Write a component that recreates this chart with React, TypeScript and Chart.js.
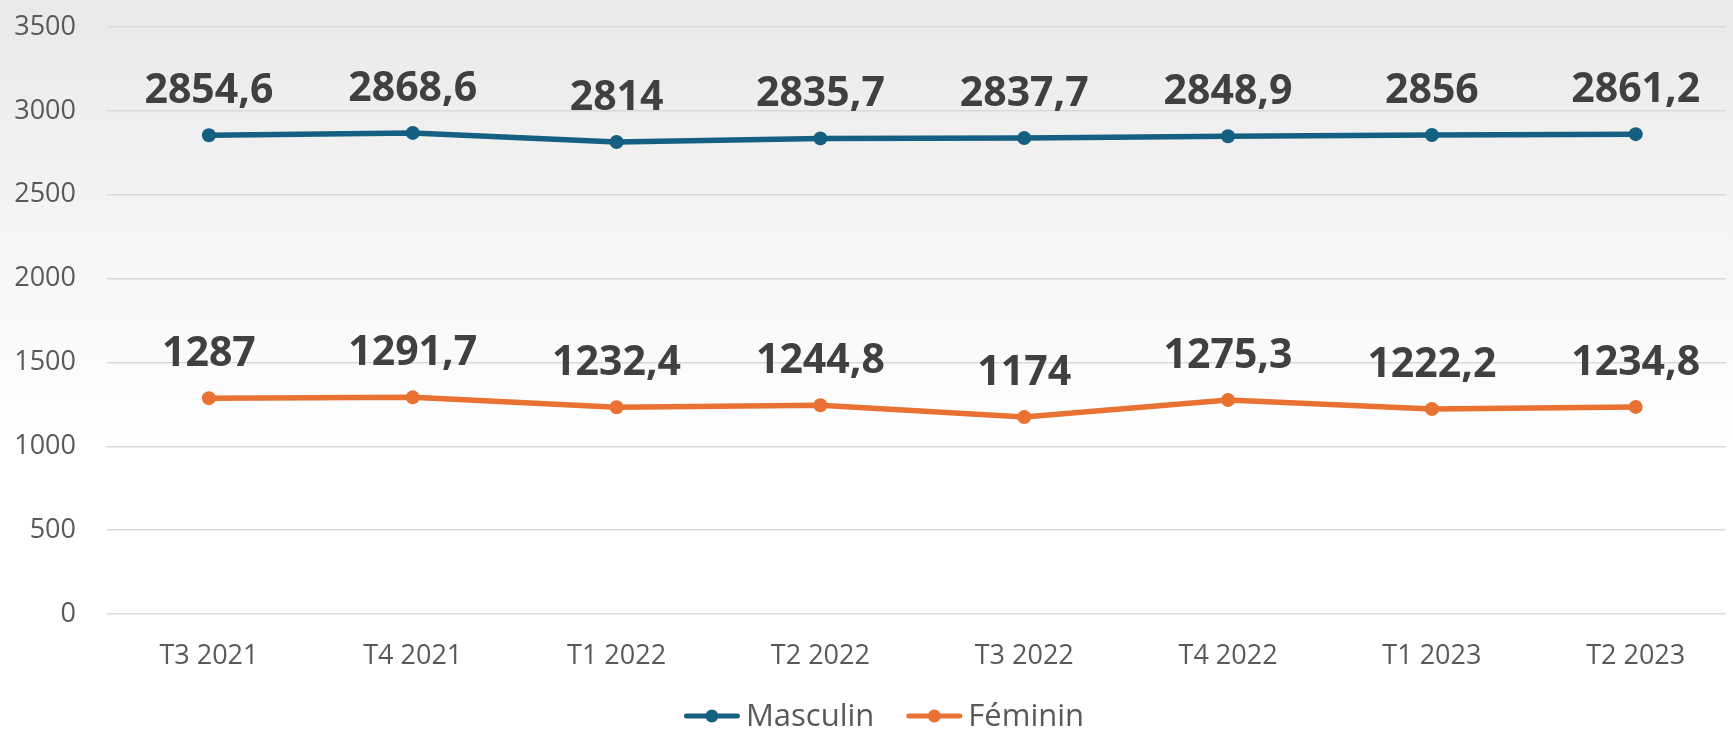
import React, { useEffect, useRef } from "react";
import { Chart, registerables } from "chart.js";

Chart.register(...registerables);

const categories = ["T3 2021", "T4 2021", "T1 2022", "T2 2022", "T3 2022", "T4 2022", "T1 2023", "T2 2023"];
const masculin = [2854.6, 2868.6, 2814, 2835.7, 2837.7, 2848.9, 2856, 2861.2];
const feminin = [1287, 1291.7, 1232.4, 1244.8, 1174, 1275.3, 1222.2, 1234.8];
const seriesNames = ["Masculin", "Féminin"];
const seriesColors = ["#156082", "#E97132"];
const yTicks = [0, 500, 1000, 1500, 2000, 2500, 3000, 3500];

const FONT = "'Open Sans', 'Noto Sans', sans-serif";

const fmt = (v: number) => String(v).replace(".", ",");

const dataLabelPlugin = {
  id: "dataLabels",
  afterDatasetsDraw(chart: any) {
    const ctx = chart.ctx;
    ctx.save();
    ctx.font = `bold 41px ${FONT}`;
    ctx.fillStyle = "#404040";
    ctx.textAlign = "center";
    ctx.textBaseline = "alphabetic";
    chart.data.datasets.forEach((ds: any, di: number) => {
      const meta = chart.getDatasetMeta(di);
      meta.data.forEach((el: any, i: number) => {
        const v = ds.data[i].y;
        ctx.fillText(fmt(v), el.x, el.y - 32);
      });
    });
    ctx.restore();
  },
};

const legendPlugin = {
  id: "customLegend",
  afterDraw(chart: any) {
    const ctx = chart.ctx;
    ctx.save();
    ctx.font = `31px ${FONT}`;
    const lineLen = 56;
    const gapText = 6;
    const gapItem = 32;
    const widths = chart.data.datasets.map((ds: any) => ctx.measureText(ds.label).width);
    let total = 0;
    widths.forEach((w: number, i: number) => {
      total += lineLen + gapText + w + (i < widths.length - 1 ? gapItem : 0);
    });
    let x = 884 - total / 2;
    const y = 716;
    chart.data.datasets.forEach((ds: any, i: number) => {
      ctx.strokeStyle = ds.borderColor;
      ctx.lineWidth = 5;
      ctx.lineCap = "round";
      ctx.beginPath();
      ctx.moveTo(x + 2.5, y);
      ctx.lineTo(x + lineLen - 2.5, y);
      ctx.stroke();
      ctx.fillStyle = ds.borderColor;
      ctx.beginPath();
      ctx.arc(x + lineLen / 2, y, 6.5, 0, Math.PI * 2);
      ctx.fill();
      ctx.fillStyle = "#595959";
      ctx.textAlign = "left";
      ctx.textBaseline = "middle";
      ctx.fillText(ds.label, x + lineLen + gapText, y + 1);
      x += lineLen + gapText + widths[i] + gapItem;
    });
    ctx.restore();
  },
};

export default function App() {
  const canvasRef = useRef<HTMLCanvasElement | null>(null);

  useEffect(() => {
    const canvas = canvasRef.current;
    if (!canvas) return;
    const mk = (vals: number[]) => vals.map((v, i) => ({ x: i, y: v }));
    const chart = new Chart(canvas, {
      type: "line",
      data: {
        datasets: [
          {
            label: seriesNames[0],
            data: mk(masculin),
            borderColor: seriesColors[0],
            backgroundColor: seriesColors[0],
            borderWidth: 5.5,
            pointRadius: 7,
            pointBackgroundColor: seriesColors[0],
            pointBorderWidth: 0,
            tension: 0,
          },
          {
            label: seriesNames[1],
            data: mk(feminin),
            borderColor: seriesColors[1],
            backgroundColor: seriesColors[1],
            borderWidth: 5.5,
            pointRadius: 7,
            pointBackgroundColor: seriesColors[1],
            pointBorderWidth: 0,
            tension: 0,
          },
        ],
      },
      options: {
        animation: false,
        responsive: false,
        maintainAspectRatio: false,
        layout: { padding: { top: 27, left: 0, right: 0, bottom: 54 } },
        plugins: {
          legend: { display: false },
          tooltip: { enabled: false },
        },
        scales: {
          x: {
            type: "linear",
            min: -0.5,
            max: 7.443,
            grid: { display: false, drawTicks: false },
            border: { display: false },
            afterBuildTicks: (scale: any) => {
              scale.ticks = categories.map((_, i) => ({ value: i }));
            },
            afterFit: (scale: any) => {
              scale.height = 62;
              scale.paddingLeft = 0;
              scale.paddingRight = 0;
            },
            ticks: {
              autoSkip: false,
              maxRotation: 0,
              padding: 26,
              color: "#595959",
              font: { family: FONT, size: 27 },
              callback: (v: any) => categories[v as number] ?? "",
            },
          },
          y: {
            min: 0,
            max: 3500,
            afterBuildTicks: (scale: any) => {
              scale.ticks = yTicks.map((v) => ({ value: v }));
            },
            afterFit: (scale: any) => {
              scale.width = 107;
              scale.paddingTop = 0;
              scale.paddingBottom = 0;
            },
            grid: { color: "#d9d9d9", lineWidth: 1.5, drawTicks: false },
            border: { display: false },
            ticks: {
              padding: 31,
              color: "#595959",
              font: { family: FONT, size: 27 },
              callback: (v: any) => String(v),
            },
          },
        },
      },
      plugins: [dataLabelPlugin, legendPlugin],
    } as any);
    return () => chart.destroy();
  }, []);

  return (
    <div
      style={{
        position: "fixed",
        left: 0,
        top: 0,
        width: 1733,
        height: 730,
        background: "linear-gradient(to bottom, #e9e9e9 0%, #f6f6f6 35%, #ffffff 60%, #ffffff 100%)",
      }}
    >
      <canvas ref={canvasRef} width={1733} height={730} style={{ display: "block" }} />
    </div>
  );
}
